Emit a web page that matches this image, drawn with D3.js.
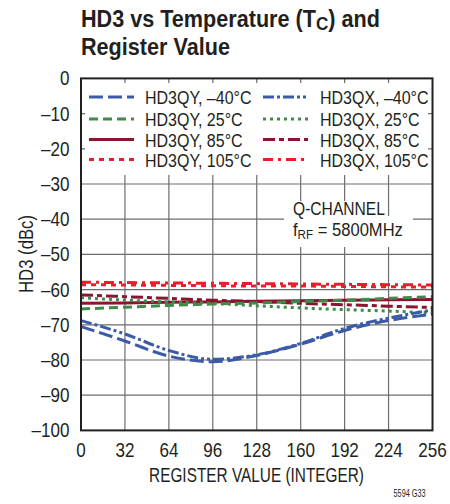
<!DOCTYPE html>
<html><head><meta charset="utf-8">
<script src="https://cdn.jsdelivr.net/npm/d3@7"></script>
<style>body{margin:0;background:#fff}svg{display:block}text{font-family:"Liberation Sans",Arial,sans-serif;fill:#231f20}</style>
</head><body>
<script>
const registers = [0, 32, 64, 96, 128, 160, 192, 224, 256];
const HD3QY_m40 = [-70.5, -74.6, -78.9, -80.5, -78.7, -75.5, -71.6, -68.8, -67.0];
const HD3QX_m40 = [-68.8, -72.6, -77.3, -79.8, -78.5, -75.3, -71.0, -68.1, -65.8];
const HD3QY_25  = [-65.5, -65.0, -64.5, -64.1, -63.8, -63.4, -63.0, -62.5, -62.0];
const HD3QX_25  = [-62.3, -63.0, -63.5, -63.9, -64.6, -65.2, -65.7, -66.1, -66.6];
const HD3QY_85  = [-63.9, -63.8, -63.6, -63.5, -63.3, -63.2, -63.0, -62.9, -62.8];
const HD3QX_85  = [-61.5, -62.0, -62.5, -63.0, -63.4, -63.9, -64.3, -64.7, -65.1];
const HD3QY_105 = [-58.6, -58.7, -58.8, -58.9, -59.0, -59.0, -59.1, -59.2, -59.3];
const HD3QX_105 = [-57.9, -58.0, -58.1, -58.2, -58.3, -58.4, -58.5, -58.6, -58.7];
const xTicks = [0, 32, 64, 96, 128, 160, 192, 224, 256];
const yTicks = [0, -10, -20, -30, -40, -50, -60, -70, -80, -90, -100];
const seriesNames = ["HD3QY, \u201340\u00b0C","HD3QX, \u201340\u00b0C","HD3QY, 25\u00b0C","HD3QX, 25\u00b0C","HD3QY, 85\u00b0C","HD3QX, 85\u00b0C","HD3QY, 105\u00b0C","HD3QX, 105\u00b0C"];

const BLUE="#3b5aa8", GREEN="#3d8c47", DRED="#8b1431", RED="#ed1c2b";
const series = [
  {name:seriesNames[0], v:HD3QY_m40, c:BLUE, d:"14,5"},
  {name:seriesNames[1], v:HD3QX_m40, c:BLUE, d:"11,3,3,3,11,3,3,3,3,3"},
  {name:seriesNames[2], v:HD3QY_25, c:GREEN, d:"9,5"},
  {name:seriesNames[3], v:HD3QX_25, c:GREEN, d:"3,4"},
  {name:seriesNames[4], v:HD3QY_85, c:DRED, d:null},
  {name:seriesNames[5], v:HD3QX_85, c:DRED, d:"12,4,5,4"},
  {name:seriesNames[6], v:HD3QY_105, c:RED, d:"5,5"},
  {name:seriesNames[7], v:HD3QX_105, c:RED, d:"10,5,3,5"}
];

const W=450, H=504;
const X0=81, X1=432.5, Y0=78.4, Y1=430.4;
const svg = d3.select("body").append("svg").attr("width",W).attr("height",H);
const x = d3.scaleLinear().domain([0,256]).range([X0,X1]);
const y = d3.scaleLinear().domain([0,-100]).range([Y0,Y1]);

// helper: condensed text
function ctext(parent, px, py, build, opts){
  const g = parent.append("g").attr("transform",`translate(${px},${py})`);
  const t = g.append("text").attr("text-anchor", opts.anchor||"start")
     .style("font-size", opts.size+"px").style("font-weight", opts.weight||"normal");
  build(t);
  const w = t.node().getBBox().width;
  const k = opts.width ? opts.width / w : (opts.k||1);
  g.attr("transform",`translate(${px},${py})${opts.rotate?` rotate(${opts.rotate})`:""} scale(${k},1)`);
  return k;
}

// grid
const grid = svg.append("g").attr("stroke","#6d6d6d").attr("stroke-width",1.2);
grid.selectAll("line.v").data(xTicks.slice(1,-1)).join("line")
  .attr("x1",d=>x(d)).attr("x2",d=>x(d)).attr("y1",Y0).attr("y2",Y1);
grid.selectAll("line.h").data(yTicks.slice(1,-1)).join("line")
  .attr("y1",d=>y(d)).attr("y2",d=>y(d)).attr("x1",X0).attr("x2",X1);

// legend background
svg.append("rect").attr("x",85).attr("y",83).attr("width",343).attr("height",92).attr("fill","#fff");
// annotation backgrounds
svg.append("rect").attr("x",290).attr("y",201).attr("width",96).attr("height",16).attr("fill","#fff");
svg.append("rect").attr("x",284).attr("y",216).attr("width",129).attr("height",31).attr("fill","#fff");

// data lines
const line = d3.line().x((d,i)=>x(registers[i])).y(d=>y(d)).curve(d3.curveMonotoneX);
const plot = svg.append("g");
const order = [4,5,2,3,6,7,0,1];
order.forEach(i=>{
  const s = series[i];
  plot.append("path").attr("d", line(s.v)).attr("fill","none").attr("stroke",s.c)
    .attr("stroke-width",3).attr("stroke-dasharray", s.d);
});

// frame
svg.append("rect").attr("x",X0).attr("y",Y0).attr("width",X1-X0).attr("height",Y1-Y0)
  .attr("fill","none").attr("stroke","#231f20").attr("stroke-width",2);

// legend
const rowsY=[97,119,139.5,159.5];
const legK = (()=>{ const t=svg.append("text").style("font-size","18px").text(seriesNames[0]); const w=t.node().getBBox().width; t.remove(); return 106.5/w; })();
series.forEach((s,i)=>{
  const col=i%2, row=Math.floor(i/2);
  const lx = col? 263:89, tx = col? 320:145, ly=rowsY[row];
  svg.append("line").attr("x1",lx).attr("x2",lx+45).attr("y1",ly).attr("y2",ly)
    .attr("stroke",s.c).attr("stroke-width",3).attr("stroke-dasharray",s.d);
  ctext(svg, tx, ly+7, t=>t.text(s.name), {size:18, k:legK});
});

// tick labels
const tickK = (()=>{ const t=svg.append("text").style("font-size","20px").text("\u2013100"); const w=t.node().getBBox().width; t.remove(); return 38/w; })();
yTicks.forEach(v=>{
  ctext(svg, 69.5, y(v)+7, t=>t.text(v===0?"0":"\u2013"+Math.abs(v)), {size:20, k:tickK, anchor:"end"});
});
xTicks.forEach(v=>{
  ctext(svg, x(v), 457, t=>t.text(String(v)), {size:20, k:tickK, anchor:"middle"});
});

// axis titles
ctext(svg, 256.5, 482, t=>t.text("REGISTER VALUE (INTEGER)"), {size:20.5, width:215, anchor:"middle"});
ctext(svg, 33, 254, t=>t.text("HD3 (dBc)"), {size:20.5, width:78, anchor:"middle", rotate:-90});

// title
const titleK = ctext(svg, 81, 27, t=>{
  t.append("tspan").text("HD3 vs Temperature (T");
  t.append("tspan").text("C").style("font-size","19px").attr("dy",3);
  t.append("tspan").text(") and").attr("dy",-3);
}, {size:24, weight:"bold", width:299});
ctext(svg, 81, 55, t=>t.text("Register Value"), {size:24, weight:"bold", k:titleK});

// annotation
ctext(svg, 293, 215, t=>t.text("Q-CHANNEL"), {size:18.5, width:92});
ctext(svg, 293, 235.7, t=>{
  t.append("tspan").text("f");
  t.append("tspan").text("RF").style("font-size","13px").attr("dy",3);
  t.append("tspan").text(" = 5800MHz").attr("dy",-3);
}, {size:18.5, width:110});

// figure code
ctext(svg, 425.5, 497, t=>t.text("5594 G33"), {size:11, width:32, anchor:"end"});
</script>
</body></html>
